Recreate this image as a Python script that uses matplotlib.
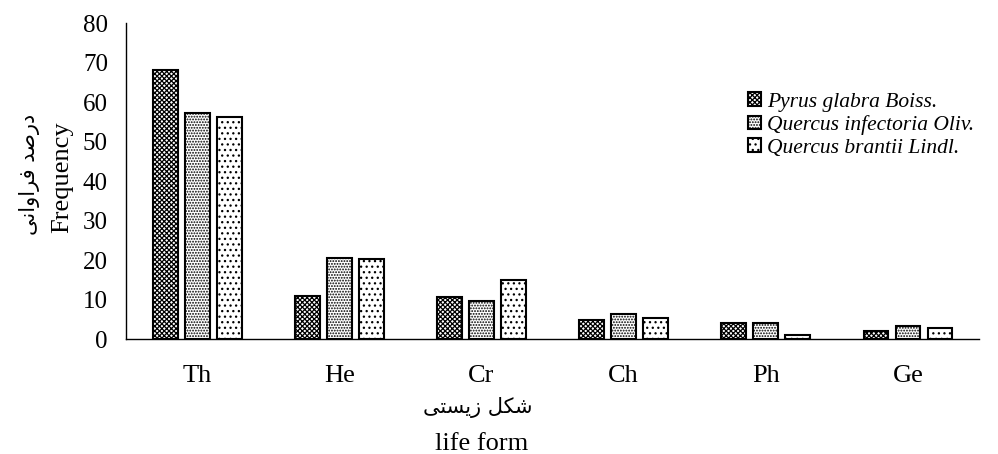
import numpy as np
import matplotlib
matplotlib.use("Agg")
import matplotlib.pyplot as plt

# data
forms = ["Th", "He", "Cr", "Ch", "Ph", "Ge"]
species = ["Pyrus glabra Boiss.", "Quercus infectoria Oliv.", "Quercus brantii Lindl."]
pyrus = [68, 10.9, 10.7, 4.8, 4.0, 1.9]
q_infectoria = [57.2, 20.4, 9.5, 6.3, 4.0, 3.2]
q_brantii = [56.2, 20.3, 14.9, 5.3, 1.1, 2.7]

# Persian labels, written in shaped presentation forms (visual order)
ylab_fa = "\uFBFD\uFEE7\uFE8D\uFEED\uFE8D\uFEAE\uFED3 \uFEAA\uFEBB\uFEAD\uFEA9"   # درصد فراوانی
xlab_fa = "\uFBFD\uFE98\uFEB4\uFBFE\uFEAF \uFEDE\uFB91\uFEB7"                   # شکل زیستی

plt.rcParams["font.family"] = ["Liberation Serif", "DejaVu Sans"]
plt.rcParams["hatch.linewidth"] = 0.9

fig = plt.figure(figsize=(9.98, 4.54), dpi=100)
ax = fig.add_axes([0.1263, 0.2533, 0.8547, 0.696])

x = np.arange(len(forms))
w = 0.175
step = 0.225
hatches = ["xxxxxxx", "......", "..."]
series = [pyrus, q_infectoria, q_brantii]
for i, (vals, h, name) in enumerate(zip(series, hatches, species)):
    ax.bar(x + (i - 1) * step, vals, w, facecolor="white", edgecolor="black",
           linewidth=1.5, hatch=h, label=name)

ax.set_xlim(-0.5, len(forms) - 0.5)
ax.set_ylim(0, 80)
ax.set_yticks(range(0, 81, 10))
ax.set_xticks(x)
ax.set_xticklabels(forms, fontsize=19)
ax.tick_params(axis="both", length=0)
ax.tick_params(axis="y", labelsize=18, pad=13)
ax.tick_params(axis="x", pad=19)
for s in ["top", "right"]:
    ax.spines[s].set_visible(False)
ax.spines["left"].set_linewidth(1.0)
ax.spines["bottom"].set_linewidth(1.0)

fig.text(0.062, 0.61, "Frequency", rotation=90, ha="center", va="center", fontsize=19)
fig.text(0.030, 0.615, ylab_fa, rotation=90, ha="center", va="center", fontsize=15,
         family="DejaVu Sans")
fig.text(0.479, 0.103, xlab_fa, ha="center", va="center", fontsize=15, family="DejaVu Sans")
fig.text(0.483, 0.022, "life form", ha="center", va="center", fontsize=19)

ax.legend(loc="upper left", bbox_to_anchor=(0.7495, 0.797), bbox_transform=fig.transFigure,
          frameon=False, prop={"style": "italic", "size": 15.5},
          handlelength=0.6, handleheight=0.6, handletextpad=0.3,
          labelspacing=0.16, borderaxespad=0, borderpad=0)

fig.savefig("out.png", dpi=100)
